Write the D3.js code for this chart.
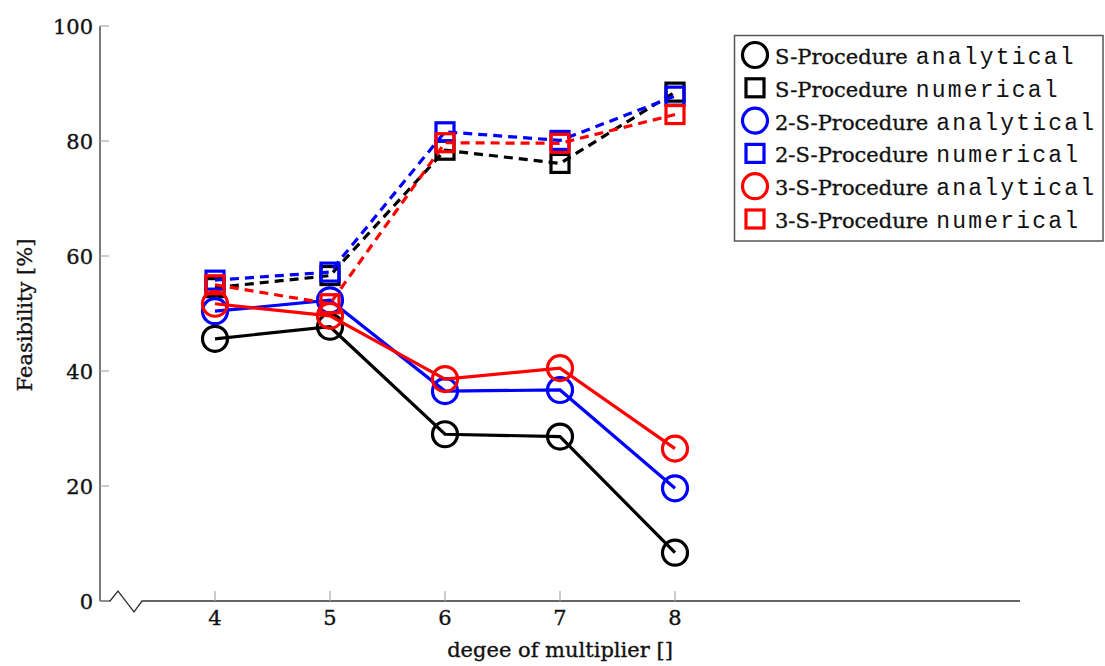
<!DOCTYPE html>
<html>
<head>
<meta charset="utf-8">
<script src="https://cdn.jsdelivr.net/npm/d3@7"></script>
<style>
  html, body { margin: 0; padding: 0; background: #fff; }
  svg { display: block; }
  .serif { font-family: "DejaVu Serif", serif; stroke: #111; stroke-width: 0.35px; }
  .mono { font-family: "Liberation Mono", monospace; }
</style>
</head>
<body>
<svg id="chart" width="1105" height="666"></svg>
<script>
const degrees = [4, 5, 6, 7, 8];
const sAnalytical   = [45.6, 47.7, 29.0, 28.6, 8.4];
const sNumerical    = [54.5, 56.6, 78.4, 76.1, 88.5];
const s2Analytical  = [50.4, 52.3, 36.5, 36.7, 19.6];
const s2Numerical   = [55.8, 57.2, 81.6, 80.1, 87.8];
const s3Analytical  = [51.7, 49.6, 38.6, 40.5, 26.5];
const s3Numerical   = [55.0, 51.7, 79.7, 79.6, 84.6];
const yTicks = [0, 20, 40, 60, 80, 100];
const xTicks = [4, 5, 6, 7, 8];
const seriesNames = ["S-Procedure", "S-Procedure", "2-S-Procedure", "2-S-Procedure", "3-S-Procedure", "3-S-Procedure"];
const seriesKinds = ["analytical", "numerical", "analytical", "numerical", "analytical", "numerical"];
const seriesColors = ["#000000", "#000000", "#0000ff", "#0000ff", "#ff0000", "#ff0000"];
const seriesValues = [sAnalytical, sNumerical, s2Analytical, s2Numerical, s3Analytical, s3Numerical];

const svg = d3.select("#chart");
const x = d3.scaleLinear().domain([3, 11]).range([100, 1020]);
const y = d3.scaleLinear().domain([0, 100]).range([601, 26]);

// axes lines
const ax = svg.append("g");
ax.append("line").attr("x1", x(3)).attr("x2", x(3)).attr("y1", y(100)).attr("y2", y(0))
  .attr("stroke", "#333").attr("stroke-width", 1.3);
const y0 = y(0);
const brk = [[x(3), y0], [x(3) + 10, y0], [x(3) + 18, y0 - 10], [x(3) + 34, y0 + 11], [x(3) + 42, y0], [x(11), y0]];
ax.append("path").attr("d", d3.line()(brk)).attr("fill", "none")
  .attr("stroke", "#333").attr("stroke-width", 1.3);

// ticks
ax.selectAll(".yt").data(yTicks).join("line")
  .attr("x1", x(3)).attr("x2", x(3) + 9).attr("y1", d => y(d)).attr("y2", d => y(d))
  .attr("stroke", "#aaa").attr("stroke-width", 1.2);
ax.selectAll(".xt").data(xTicks).join("line")
  .attr("x1", d => x(d)).attr("x2", d => x(d)).attr("y1", y0).attr("y2", y0 - 10)
  .attr("stroke", "#aaa").attr("stroke-width", 1.2);

// tick labels
ax.selectAll(".ytl").data(yTicks).join("text")
  .attr("class", "serif").attr("x", x(3) - 7).attr("y", d => y(d)).attr("dy", "0.36em")
  .attr("text-anchor", "end").attr("font-size", 21).attr("fill", "#111").text(d => d);
ax.selectAll(".xtl").data(xTicks).join("text")
  .attr("class", "serif").attr("x", d => x(d)).attr("y", 625)
  .attr("text-anchor", "middle").attr("font-size", 21).attr("fill", "#111").text(d => d);

// axis titles
svg.append("text").attr("class", "serif").attr("x", 560).attr("y", 657)
  .attr("text-anchor", "middle").attr("font-size", 21).attr("fill", "#111").text("degee of multiplier []");
svg.append("text").attr("class", "serif").attr("transform", "translate(32,315) rotate(-90)")
  .attr("text-anchor", "middle").attr("font-size", 21).attr("fill", "#111").text("Feasibility [%]");

// series
const line = d3.line().x((d, i) => x(degrees[i])).y(d => y(d));
const plot = svg.append("g");
seriesValues.forEach((vals, si) => {
  const col = seriesColors[si];
  const g = plot.append("g");
  const isNum = seriesKinds[si] === "numerical";
  g.append("path").attr("d", line(vals)).attr("fill", "none")
    .attr("stroke", col).attr("stroke-width", 3.2)
    .attr("stroke-dasharray", isNum ? "9,6" : null);
  if (isNum) {
    g.selectAll("rect").data(vals).join("rect")
      .attr("x", (d, i) => x(degrees[i]) - 9).attr("y", d => y(d) - 9)
      .attr("width", 18).attr("height", 18)
      .attr("fill", "none").attr("stroke", col).attr("stroke-width", 3.2);
  } else {
    g.selectAll("circle").data(vals).join("circle")
      .attr("cx", (d, i) => x(degrees[i])).attr("cy", d => y(d)).attr("r", 12.5)
      .attr("fill", "none").attr("stroke", col).attr("stroke-width", 3.2);
  }
});

// legend
const lg = svg.append("g");
lg.append("rect").attr("x", 734.5).attr("y", 35.5).attr("width", 368.5).attr("height", 205.5)
  .attr("fill", "#fff").attr("stroke", "#555").attr("stroke-width", 1.5);
seriesNames.forEach((name, i) => {
  const cy = 55 + i * 32.8;
  const col = seriesColors[i];
  if (seriesKinds[i] === "numerical") {
    lg.append("rect").attr("x", 755 - 9).attr("y", cy - 9).attr("width", 18).attr("height", 18)
      .attr("fill", "none").attr("stroke", col).attr("stroke-width", 3.2);
  } else {
    lg.append("circle").attr("cx", 755).attr("cy", cy).attr("r", 12.5)
      .attr("fill", "none").attr("stroke", col).attr("stroke-width", 3.2);
  }
  const serifT = lg.append("text").attr("class", "serif").attr("x", 775).attr("y", cy + 9)
    .attr("font-size", 21).attr("fill", "#111").text(name);
  const w = serifT.node().getComputedTextLength();
  lg.append("text").attr("class", "mono").attr("x", 775 + w + 8).attr("y", cy + 9)
    .attr("font-size", 23).attr("letter-spacing", 2.2).attr("fill", "#111").text(seriesKinds[i]);
});
</script>
</body>
</html>
